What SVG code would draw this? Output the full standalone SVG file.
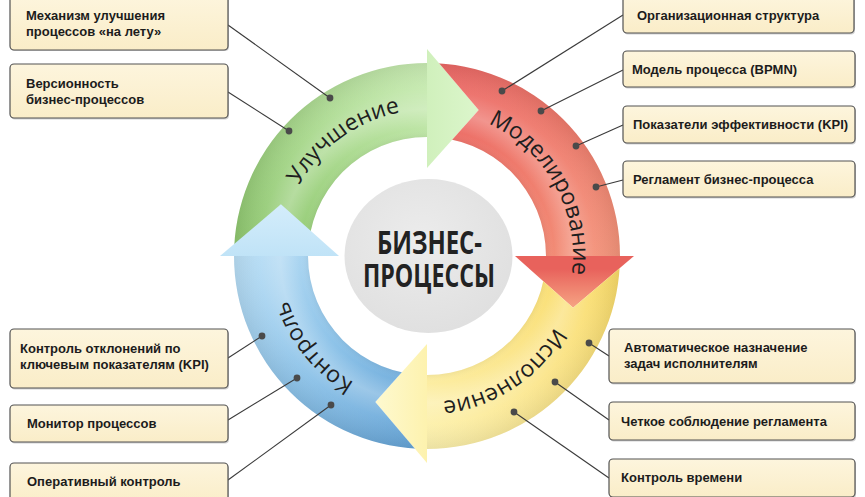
<svg xmlns="http://www.w3.org/2000/svg" width="865" height="497" viewBox="0 0 865 497">
<style>
.box{fill:url(#boxFill);stroke:#525252;stroke-width:1.2}
.shadow{fill:#7a7a7a;opacity:.35}
.bt{font-family:"Liberation Sans",Arial,sans-serif;font-weight:bold;font-size:13px;fill:#1c1c1c}
.conn{stroke:#3a3a3a;stroke-width:1.1;fill:none}
.dot{fill:#4a4a4a}
.lbl{font-family:"Open Sans","Noto Sans",sans-serif;font-size:23px;fill:#1e1e1e}
.ctr{font-family:"Open Sans","Noto Sans",sans-serif;font-weight:700;font-size:33px;fill:#222}
.bevel{fill:url(#bevel)}
</style>
<defs>
<linearGradient id="boxFill" x1="0" y1="0" x2="0" y2="1">
<stop offset="0" stop-color="#fdf5dd"/><stop offset="1" stop-color="#faedc8"/>
</linearGradient>
<radialGradient id="bevel" gradientUnits="userSpaceOnUse" cx="0" cy="0" r="193">
<stop offset="0.6" stop-color="#000" stop-opacity="0.08"/>
<stop offset="0.66" stop-color="#fff" stop-opacity="0"/>
<stop offset="0.76" stop-color="#fff" stop-opacity="0.25"/>
<stop offset="0.87" stop-color="#fff" stop-opacity="0.05"/>
<stop offset="1" stop-color="#000" stop-opacity="0.07"/>
</radialGradient>
<radialGradient id="hub" cx="0.45" cy="0.4" r="0.6">
<stop offset="0" stop-color="#ececec"/><stop offset="1" stop-color="#e0e0e0"/>
</radialGradient>
<linearGradient id="gBody" gradientUnits="userSpaceOnUse" x1="-193" y1="20" x2="20" y2="-193">
<stop offset="0" stop-color="#89c369"/><stop offset="0.5" stop-color="#a8d88c"/><stop offset="1" stop-color="#cdeeb8"/>
</linearGradient>
<linearGradient id="gHead" gradientUnits="userSpaceOnUse" x1="0" y1="0" x2="52" y2="0">
<stop offset="0" stop-color="#d0f0bc"/><stop offset="1" stop-color="#dcf6cc"/>
</linearGradient>
<linearGradient id="rBody" gradientUnits="userSpaceOnUse" x1="-20" y1="-193" x2="193" y2="20">
<stop offset="0" stop-color="#ea6464"/><stop offset="0.5" stop-color="#ef7a6c"/><stop offset="1" stop-color="#f4977c"/>
</linearGradient>
<linearGradient id="rHead" gradientUnits="userSpaceOnUse" x1="0" y1="0" x2="0" y2="52">
<stop offset="0.25" stop-color="#e8625c"/><stop offset="1" stop-color="#f6a584"/>
</linearGradient>
<linearGradient id="yBody" gradientUnits="userSpaceOnUse" x1="193" y1="-20" x2="-20" y2="193">
<stop offset="0" stop-color="#f9d962"/><stop offset="0.5" stop-color="#fbe58a"/><stop offset="1" stop-color="#fdf3b3"/>
</linearGradient>
<linearGradient id="yHead" gradientUnits="userSpaceOnUse" x1="0" y1="0" x2="-52" y2="0">
<stop offset="0" stop-color="#fdf2ae"/><stop offset="1" stop-color="#fef9d0"/>
</linearGradient>
<linearGradient id="bBody" gradientUnits="userSpaceOnUse" x1="20" y1="193" x2="-193" y2="-20">
<stop offset="0" stop-color="#5e9ed3"/><stop offset="0.5" stop-color="#8cc2e8"/><stop offset="1" stop-color="#bfe2f7"/>
</linearGradient>
<linearGradient id="bHead" gradientUnits="userSpaceOnUse" x1="0" y1="0" x2="0" y2="-52">
<stop offset="0" stop-color="#c0e3f7"/><stop offset="1" stop-color="#d4edfb"/>
</linearGradient>
<mask id="mRed" maskUnits="userSpaceOnUse" x="-260" y="-260" width="520" height="520">
<rect x="-260" y="-260" width="520" height="520" fill="#fff"/>
<polygon points="0,-207 51.7,-146.1 0,-88" fill="#000"/>
</mask>
<mask id="mYellow" maskUnits="userSpaceOnUse" x="-260" y="-260" width="520" height="520">
<rect x="-260" y="-260" width="520" height="520" fill="#fff"/>
<polygon points="207,0 146.1,51.7 88,0" fill="#000"/>
</mask>
<mask id="mBlue" maskUnits="userSpaceOnUse" x="-260" y="-260" width="520" height="520">
<rect x="-260" y="-260" width="520" height="520" fill="#fff"/>
<polygon points="0,207 -51.7,146.1 0,88" fill="#000"/>
</mask>
<path id="labelArc" d="M 0 -146 A 146 146 0 1 1 0 146 A 146 146 0 1 1 0 -146"/>
</defs>

<rect width="865" height="497" fill="#ffffff"/>

<g id="cycle" transform="translate(427,256)">
<g id="stage-improvement">
<path d="M -193 0 A 193 193 0 0 1 0 -193 L 0 -119 A 119 119 0 0 0 -119 0 Z" fill="url(#gBody)"/>
<path class="bevel" d="M -193 0 A 193 193 0 0 1 0 -193 L 0 -119 A 119 119 0 0 0 -119 0 Z"/>
<polygon points="0,-207 51.7,-146.1 0,-88" fill="url(#gHead)"/>
<text class="lbl"><textPath href="#labelArc" startOffset="825.6" text-anchor="middle">Улучшение</textPath></text>
</g>
<g id="stage-modeling">
<g mask="url(#mRed)">
<path d="M 0 -193 A 193 193 0 0 1 193 0 L 119 0 A 119 119 0 0 0 0 -119 Z" fill="url(#rBody)"/>
<path class="bevel" d="M 0 -193 A 193 193 0 0 1 193 0 L 119 0 A 119 119 0 0 0 0 -119 Z"/>
</g>
<polygon points="207,0 146.1,51.7 88,0" fill="url(#rHead)"/>
<text class="lbl"><textPath href="#labelArc" startOffset="155.4" text-anchor="middle">Моделирование</textPath></text>
</g>
<g id="stage-execution">
<g mask="url(#mYellow)">
<path d="M 193 0 A 193 193 0 0 1 0 193 L 0 119 A 119 119 0 0 0 119 0 Z" fill="url(#yBody)"/>
<path class="bevel" d="M 193 0 A 193 193 0 0 1 0 193 L 0 119 A 119 119 0 0 0 119 0 Z"/>
</g>
<polygon points="0,207 -51.7,146.1 0,88" fill="url(#yHead)"/>
<text class="lbl"><textPath href="#labelArc" startOffset="373.3" text-anchor="middle">Исполнение</textPath></text>
</g>
<g id="stage-control">
<g mask="url(#mBlue)">
<path d="M 0 193 A 193 193 0 0 1 -193 0 L -119 0 A 119 119 0 0 0 0 119 Z" fill="url(#bBody)"/>
<path class="bevel" d="M 0 193 A 193 193 0 0 1 -193 0 L -119 0 A 119 119 0 0 0 0 119 Z"/>
</g>
<polygon points="-207,0 -146.1,-51.7 -88,0" fill="url(#bHead)"/>
<text class="lbl"><textPath href="#labelArc" startOffset="588.6" text-anchor="middle">Контроль</textPath></text>
</g>
</g>

<g id="hub-node">
<ellipse cx="428.5" cy="256" rx="84" ry="77" fill="url(#hub)"/>
<text class="ctr" x="377" y="254" textLength="105" lengthAdjust="spacingAndGlyphs">БИЗНЕС-</text>
<text class="ctr" x="363" y="287" textLength="132" lengthAdjust="spacingAndGlyphs">ПРОЦЕССЫ</text>
</g>

<g id="connectors">
<line class="conn" x1="228" y1="25" x2="330" y2="98"/>
<line class="conn" x1="228" y1="92" x2="289" y2="131"/>
<line class="conn" x1="623" y1="15" x2="502" y2="91"/>
<line class="conn" x1="623" y1="70" x2="541" y2="111"/>
<line class="conn" x1="623" y1="125" x2="576" y2="146"/>
<line class="conn" x1="623" y1="180" x2="596" y2="187"/>
<line class="conn" x1="228" y1="358" x2="262" y2="336"/>
<line class="conn" x1="228" y1="420" x2="297" y2="378"/>
<line class="conn" x1="228" y1="480" x2="331" y2="405"/>
<line class="conn" x1="609" y1="356" x2="589" y2="343"/>
<line class="conn" x1="609" y1="420" x2="555" y2="382"/>
<line class="conn" x1="609" y1="478" x2="514" y2="412"/>
<circle class="dot" cx="330" cy="98" r="3.4"/>
<circle class="dot" cx="289" cy="131" r="3.4"/>
<circle class="dot" cx="502" cy="91" r="3.4"/>
<circle class="dot" cx="541" cy="111" r="3.4"/>
<circle class="dot" cx="576" cy="146" r="3.4"/>
<circle class="dot" cx="596" cy="187" r="3.4"/>
<circle class="dot" cx="262" cy="336" r="3.4"/>
<circle class="dot" cx="297" cy="378" r="3.4"/>
<circle class="dot" cx="331" cy="405" r="3.4"/>
<circle class="dot" cx="589" cy="343" r="3.4"/>
<circle class="dot" cx="555" cy="382" r="3.4"/>
<circle class="dot" cx="514" cy="412" r="3.4"/>
</g>

<g id="box-mechanism">
<rect class="shadow" x="11" y="-4" width="218" height="55" rx="4"/>
<rect class="box" x="10" y="-5" width="218" height="55" rx="4"/>
<text class="bt" x="26" y="20">Механизм улучшения</text>
<text class="bt" x="26" y="36">процессов «на лету»</text>
</g>
<g id="box-versioning">
<rect class="shadow" x="11" y="65.5" width="218" height="54" rx="4"/>
<rect class="box" x="10" y="64" width="218" height="54" rx="4"/>
<text class="bt" x="26" y="88">Версионность</text>
<text class="bt" x="26" y="104">бизнес-процессов</text>
</g>
<g id="box-deviation">
<rect class="shadow" x="11" y="330.5" width="218" height="59" rx="4"/>
<rect class="box" x="10" y="329" width="218" height="59" rx="4"/>
<text class="bt" x="20" y="353">Контроль отклонений по</text>
<text class="bt" x="20" y="369">ключевым показателям (KPI)</text>
</g>
<g id="box-monitor">
<rect class="shadow" x="11" y="406.5" width="218" height="37" rx="4"/>
<rect class="box" x="10" y="405" width="218" height="37" rx="4"/>
<text class="bt" x="27" y="428">Монитор процессов</text>
</g>
<g id="box-operative">
<rect class="shadow" x="11" y="464.5" width="218" height="40" rx="4"/>
<rect class="box" x="10" y="463" width="218" height="40" rx="4"/>
<text class="bt" x="27" y="486">Оперативный контроль</text>
</g>
<g id="box-orgstructure">
<rect class="shadow" x="624" y="-3.5" width="231" height="38" rx="4"/>
<rect class="box" x="623" y="-5" width="231" height="38" rx="4"/>
<text class="bt" x="637" y="20">Организационная структура</text>
</g>
<g id="box-model">
<rect class="shadow" x="624" y="52.5" width="232" height="36" rx="4"/>
<rect class="box" x="623" y="51" width="232" height="36" rx="4"/>
<text class="bt" x="632" y="74">Модель процесса (BPMN)</text>
</g>
<g id="box-kpi">
<rect class="shadow" x="624" y="107.5" width="232" height="37" rx="4"/>
<rect class="box" x="623" y="106" width="232" height="37" rx="4"/>
<text class="bt" x="633" y="129">Показатели эффективности (KPI)</text>
</g>
<g id="box-regulation">
<rect class="shadow" x="624" y="162.5" width="232" height="36" rx="4"/>
<rect class="box" x="623" y="161" width="232" height="36" rx="4"/>
<text class="bt" x="633" y="184">Регламент бизнес-процесса</text>
</g>
<g id="box-autoassign">
<rect class="shadow" x="610" y="330.5" width="246" height="54" rx="4"/>
<rect class="box" x="609" y="329" width="246" height="54" rx="4"/>
<text class="bt" x="624" y="352">Автоматическое назначение</text>
<text class="bt" x="624" y="368">задач исполнителям</text>
</g>
<g id="box-compliance">
<rect class="shadow" x="610" y="403.5" width="246" height="38" rx="4"/>
<rect class="box" x="609" y="402" width="246" height="38" rx="4"/>
<text class="bt" x="621" y="426">Четкое соблюдение регламента</text>
</g>
<g id="box-time">
<rect class="shadow" x="610" y="460.5" width="246" height="38" rx="4"/>
<rect class="box" x="609" y="459" width="246" height="38" rx="4"/>
<text class="bt" x="621" y="482">Контроль времени</text>
</g>
</svg>
